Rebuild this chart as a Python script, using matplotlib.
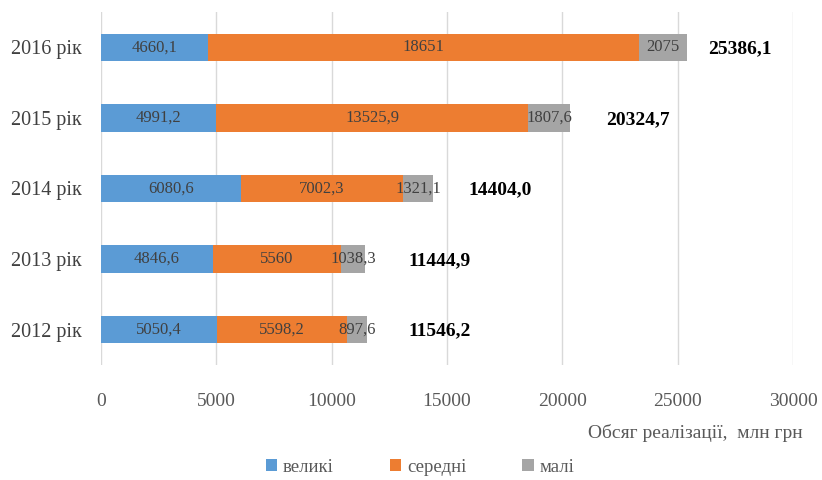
import matplotlib
matplotlib.use('Agg')
import matplotlib.pyplot as plt
from matplotlib.patches import Patch

# Sales volume by enterprise size, mln UAH
YEARS = ["2012 рік", "2013 рік", "2014 рік", "2015 рік", "2016 рік"]
LARGE = [5050.4, 4846.6, 6080.6, 4991.2, 4660.1]
MEDIUM = [5598.2, 5560, 7002.3, 13525.9, 18651]
SMALL = [897.6, 1038.3, 1321.1, 1807.6, 2075]
TOTALS = [11546.2, 11444.9, 14404.0, 20324.7, 25386.1]
SERIES_NAMES = ["великі", "середні", "малі"]
X_TICKS = [0, 5000, 10000, 15000, 20000, 25000, 30000]

COLORS = ["#5B9BD5", "#ED7D31", "#A5A5A5"]
TEXT_DARK = "#404040"
TICK_GRAY = "#595959"
# horizontal gap (px) between bar end and its total label
TOTAL_PAD = [41, 43, 35, 36, 22]

plt.rcParams['font.family'] = ['Liberation Serif', 'DejaVu Serif']


def fmt(v, force_decimal=False):
    if not force_decimal and float(v).is_integer():
        return str(int(v))
    return f"{v:.1f}".replace(".", ",")


fig = plt.figure(figsize=(8.22, 4.8), dpi=100)
ax = fig.add_axes([101 / 822, 1 - 365 / 480, (793 - 101) / 822, (365 - 12) / 480])

y = list(range(len(YEARS)))
left = [0.0] * len(YEARS)
for name, vals, color in zip(SERIES_NAMES, [LARGE, MEDIUM, SMALL], COLORS):
    bars = ax.barh(y, vals, left=left, height=0.39, color=color, zorder=2)
    for b, v in zip(bars, vals):
        cx = b.get_x() + b.get_width() / 2
        ax.text(cx, b.get_y() + b.get_height() / 2, fmt(v), ha="center", va="center",
                fontsize=12, color=TEXT_DARK, zorder=3)
    left = [l + v for l, v in zip(left, vals)]

for yi, end, tot, pad in zip(y, left, TOTALS, TOTAL_PAD):
    ax.annotate(fmt(tot, True), xy=(end, yi), xytext=(pad * 0.72, -1),
                textcoords="offset points", ha="left", va="center",
                fontsize=14, fontweight="bold", color="black")

ax.set_xlim(0, 30000)
ax.set_ylim(-0.5, len(YEARS) - 0.5)
ax.set_xticks(X_TICKS)
ax.set_xticklabels([str(t) for t in X_TICKS])
ax.set_yticks(y)
ax.set_yticklabels(YEARS)
ax.tick_params(axis="x", length=0, pad=20, labelsize=14, labelcolor=TICK_GRAY)
ax.tick_params(axis="y", length=0, pad=14, labelsize=14.5, labelcolor=TEXT_DARK)
ax.grid(axis="x", color="#D9D9D9", linewidth=1, zorder=0)
for s in ax.spines.values():
    s.set_visible(False)

fig.text(803 / 822, 1 - 433 / 480, "Обсяг реалізації,  млн грн", ha="right", va="center",
         fontsize=14, color=TICK_GRAY)

handles = [Patch(facecolor=c, edgecolor="none") for c in COLORS]
fig.legend(handles, SERIES_NAMES, loc="center", bbox_to_anchor=(420 / 822, 1 - 467 / 480),
           ncol=3, frameon=False, fontsize=13.5, handlelength=0.6, handleheight=0.6,
           handletextpad=0.3, columnspacing=3.0, labelcolor=TICK_GRAY)

fig.savefig("out.png", dpi=100, facecolor="white")
